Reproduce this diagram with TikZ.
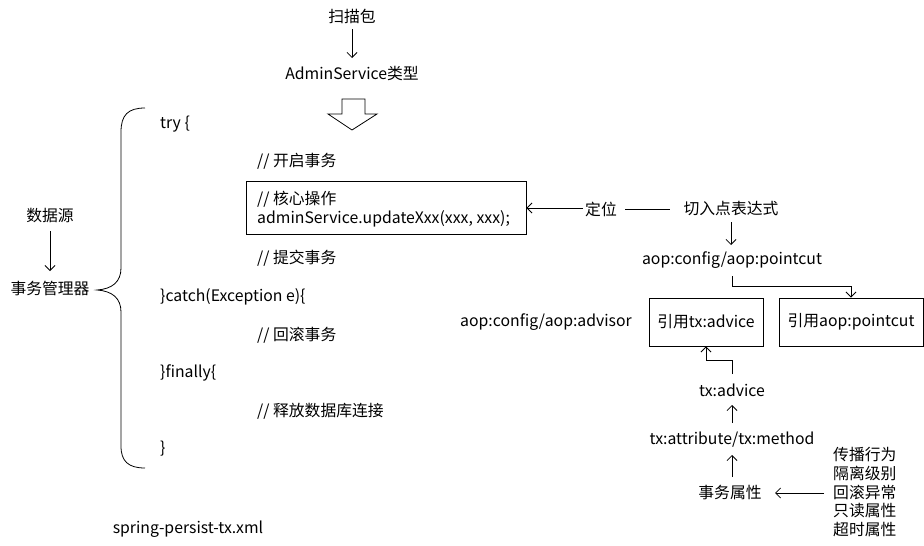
\documentclass[tikz,border=0pt]{standalone}
\usepackage{fontspec}
\setmainfont{Noto Sans CJK SC}
\usetikzlibrary{arrows.meta}
\begin{document}
\begin{tikzpicture}[x=1pt,y=-1pt,
  every node/.style={font=\fontsize{15.8}{19}\selectfont, inner sep=0pt},
  arr/.style={draw, line width=0.8pt, -{Straight Barb[length=5pt,width=10pt]}},
  ln/.style={draw, line width=0.8pt},
  bx/.style={draw, line width=0.9pt, minimum width=#1, minimum height=48pt}]
\useasboundingbox (0,0) rectangle (924,546);
% top
\node (scan) at (352,16) {扫描包};
\node (type) at (352,74) {AdminService类型};
\draw[arr] (352,29) -- (352,58);
\draw[ln, line join=miter] (342,99) -- (365,99) -- (365,114) -- (377,114) -- (352,130) -- (328,114) -- (342,114) -- cycle;
% left
\node (ds) at (50,216) {数据源};
\node (tm) at (50,288) {事务管理器};
\draw[arr] (50,231) -- (50,271);
\draw[ln] (145,108) .. controls (128,108) and (121,115) .. (121,132) -- (121,268)
  .. controls (121,282) and (112,289) .. (97,290)
  .. controls (112,291) and (121,298) .. (121,312) -- (121,446)
  .. controls (121,461) and (128,468) .. (145,468);
% code
\node[anchor=west] (try) at (160,124) {try \{};
\node[anchor=west] (catch) at (160,297) {\}catch(Exception e)\{};
\node[anchor=west] (fin) at (160,373) {\}finally\{};
\node[anchor=west] (end) at (160,449) {\}};
\node[anchor=west] (c1) at (257,161) {// 开启事务};
\node[anchor=west] (c3) at (257,258) {// 提交事务};
\node[anchor=west] (c4) at (257,335) {// 回滚事务};
\node[anchor=west] (c5) at (257,411) {// 释放数据库连接};
\node[bx=280pt, minimum height=53pt] (core) at (386,207.5) {};
\node[anchor=west] (c2a) at (257,199) {// 核心操作};
\node[anchor=west] (c2b) at (257,219) {adminService.updateXxx(xxx, xxx);};
% right
\node (loc) at (601,209) {定位};
\node (expr) at (731,209) {切入点表达式};
\draw[arr] (583,208) -- (core.east |- 0,208);
\draw[ln] (625,209) -- (670,209);
\node (pc) at (732,260) {aop:config/aop:pointcut};
\draw[arr] (731,222) -- (731,245);
\node (adv) at (546,322) {aop:config/aop:advisor};
\node[bx=114pt] (rtx) at (706,322) {引用tx:advice};
\node[bx=144pt] (rpc) at (851,322) {引用aop:pointcut};
\draw[arr] (732,276) -- (732,286) -- (851,286) -- (rpc.north);
\node (txa) at (732,390) {tx:advice};
\draw[arr] (732,374) -- (732,360) -- (706,360) -- (rtx.south);
\node (txm) at (732,440) {tx:attribute/tx:method};
\draw[arr] (732,423) -- (732,405);
\node (prop) at (730,493) {事务属性};
\draw[arr] (732,477) -- (732,455);
\node[anchor=west, align=left, font=\fontsize{15.8}{18.8}\selectfont] (list) at (833,492) {传播行为\\隔离级别\\回滚异常\\只读属性\\超时属性};
\draw[arr] (824,493) -- (775,493);
\node (file) at (188,529) {spring-persist-tx.xml};
\end{tikzpicture}
\end{document}
